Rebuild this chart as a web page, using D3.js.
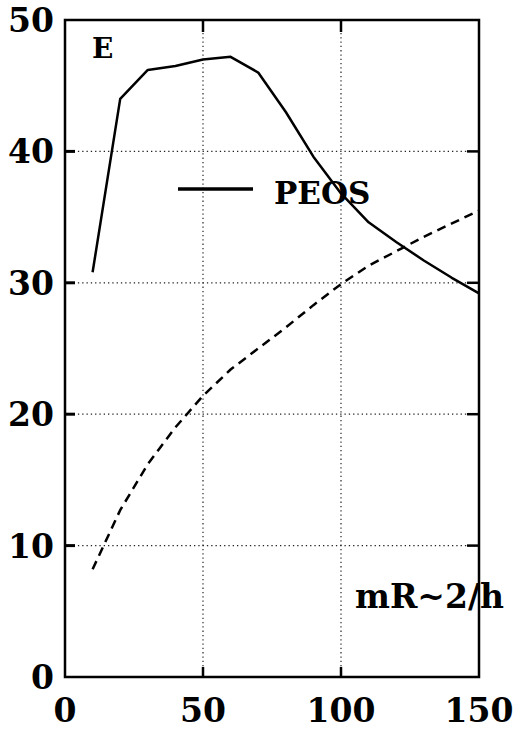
<!DOCTYPE html>
<html>
<head>
<meta charset="utf-8">
<script src="https://cdn.jsdelivr.net/npm/d3@7"></script>
<style>
  html, body { margin: 0; padding: 0; background: #fff; }
  svg { display: block; }
  text { font-family: "DejaVu Serif", "Liberation Serif", serif; font-weight: bold; fill: #000; }
</style>
</head>
<body>
<svg id="chart" width="516" height="732"></svg>
<script>
// ---- data ----
const xTicks = [0, 50, 100, 150];
const yTicks = [0, 10, 20, 30, 40, 50];
const xGrid = [50, 100];
const yGrid = [10, 20, 30, 40];

const peosX = [10, 20, 30, 40, 50, 60, 70, 80, 90, 100, 110, 120, 130, 140, 150];
const peosY = [30.8, 44.0, 46.2, 46.5, 47.0, 47.2, 46.0, 43.0, 39.6, 36.8, 34.6, 33.1, 31.7, 30.4, 29.2];

const dashX = [10, 20, 30, 40, 50, 60, 70, 80, 90, 100, 110, 120, 130, 140, 150];
const dashY = [8.2, 12.7, 16.2, 19.0, 21.4, 23.4, 25.0, 26.6, 28.3, 29.9, 31.3, 32.4, 33.5, 34.5, 35.5];

const seriesLabel = "PEOS";
const yLabel = "E";
const xLabel = "mR~2/h";

// ---- layout ----
const svg = d3.select("#chart");
const pL = 65, pR = 479, pT = 20, pB = 677;

const x = d3.scaleLinear().domain([0, 150]).range([pL, pR]);
const y = d3.scaleLinear().domain([0, 50]).range([pB, pT]);

// grid (dotted)
svg.append("g").selectAll("line").data(xGrid).join("line")
  .attr("x1", d => x(d)).attr("x2", d => x(d))
  .attr("y1", pT).attr("y2", pB)
  .attr("stroke", "#222").attr("stroke-width", 1.2).attr("stroke-dasharray", "1.3,3");
svg.append("g").selectAll("line").data(yGrid).join("line")
  .attr("x1", pL).attr("x2", pR)
  .attr("y1", d => y(d)).attr("y2", d => y(d))
  .attr("stroke", "#222").attr("stroke-width", 1.2).attr("stroke-dasharray", "1.3,3");

// frame
svg.append("rect")
  .attr("x", pL).attr("y", pT)
  .attr("width", pR - pL).attr("height", pB - pT)
  .attr("fill", "none").attr("stroke", "#000").attr("stroke-width", 2.5);

// ticks on all four sides (inward)
svg.append("g").selectAll("line").data(yGrid).join("line")
  .attr("x1", pL).attr("x2", pL + 10)
  .attr("y1", d => y(d)).attr("y2", d => y(d))
  .attr("stroke", "#000").attr("stroke-width", 3);
svg.append("g").selectAll("line").data(yGrid).join("line")
  .attr("x1", pR).attr("x2", pR - 12)
  .attr("y1", d => y(d)).attr("y2", d => y(d))
  .attr("stroke", "#000").attr("stroke-width", 2.5);
svg.append("g").selectAll("line").data(xGrid).join("line")
  .attr("x1", d => x(d)).attr("x2", d => x(d))
  .attr("y1", pT).attr("y2", pT + 12)
  .attr("stroke", "#000").attr("stroke-width", 2.5);
svg.append("g").selectAll("line").data(xGrid).join("line")
  .attr("x1", d => x(d)).attr("x2", d => x(d))
  .attr("y1", pB).attr("y2", pB - 10)
  .attr("stroke", "#000").attr("stroke-width", 2.5);

// tick labels
svg.append("g").selectAll("text").data(yTicks).join("text")
  .attr("x", 54).attr("y", d => y(d) + 12)
  .attr("text-anchor", "end")
  .attr("font-size", 33)
  .text(d => d);
svg.append("g").selectAll("text").data(xTicks).join("text")
  .attr("x", d => x(d)).attr("y", 722)
  .attr("text-anchor", "middle")
  .attr("font-size", 33)
  .text(d => d);

// curves
const line = d3.line().x(d => x(d[0])).y(d => y(d[1]));
svg.append("path")
  .datum(peosX.map((v, i) => [v, peosY[i]]))
  .attr("d", line)
  .attr("fill", "none").attr("stroke", "#000").attr("stroke-width", 2.5)
  .attr("stroke-linejoin", "round");
svg.append("path")
  .datum(dashX.map((v, i) => [v, dashY[i]]))
  .attr("d", line)
  .attr("fill", "none").attr("stroke", "#000").attr("stroke-width", 2.5)
  .attr("stroke-dasharray", "9,6");

// legend
svg.append("line")
  .attr("x1", 178).attr("x2", 253).attr("y1", 189).attr("y2", 189)
  .attr("stroke", "#000").attr("stroke-width", 3.5);
svg.append("text")
  .attr("x", 274).attr("y", 204)
  .attr("font-size", 31)
  .text(seriesLabel);

// axis labels
svg.append("text")
  .attr("x", 92).attr("y", 58)
  .attr("font-size", 28)
  .text(yLabel);
svg.append("text")
  .attr("x", 355).attr("y", 608)
  .attr("font-size", 33)
  .text(xLabel);
</script>
</body>
</html>
